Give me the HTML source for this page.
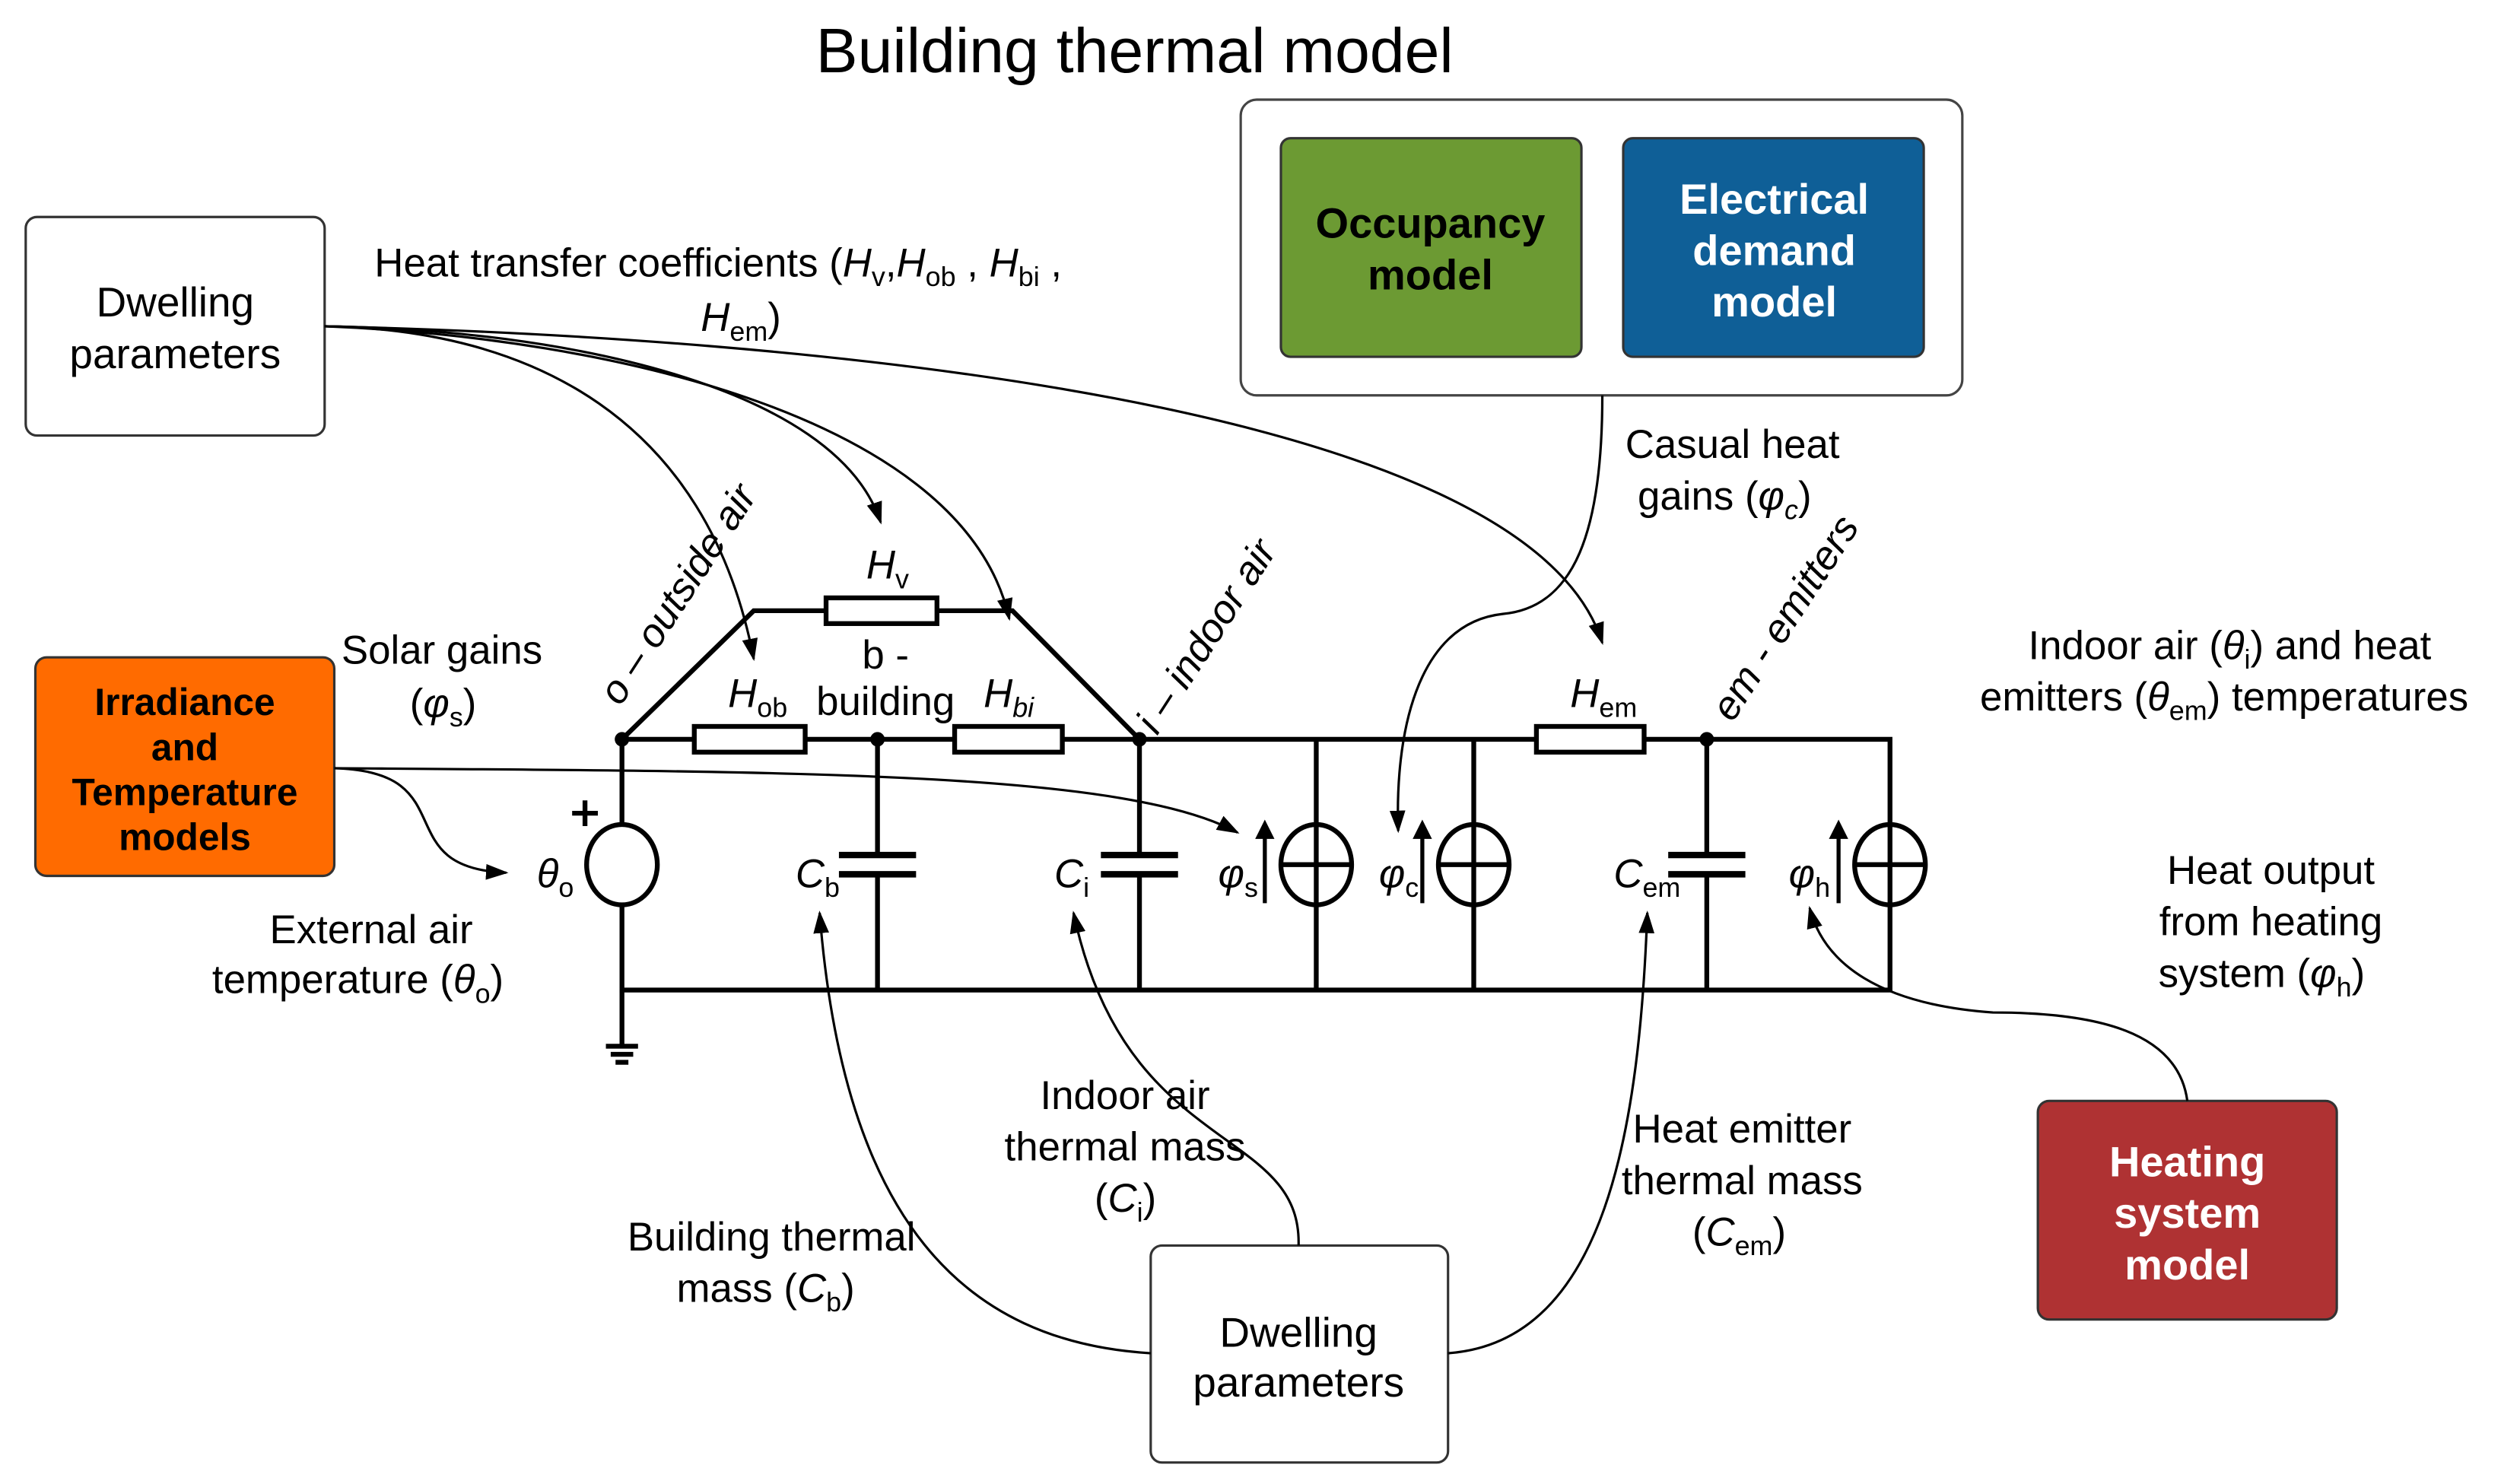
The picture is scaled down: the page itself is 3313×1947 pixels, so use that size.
<!DOCTYPE html>
<html><head><meta charset="utf-8"><style>
html,body{margin:0;padding:0;background:#fff}
svg{display:block}
text{font-family:"Liberation Sans",sans-serif;fill:#000}
.l{font-size:25px}
.b{font-size:26.5px;font-weight:bold}
.i{font-style:italic}
</style></head><body>
<svg width="3313" height="1947" viewBox="0 0 1568 921.5" preserveAspectRatio="none" xmlns="http://www.w3.org/2000/svg">
<defs>
<marker id="a2" viewBox="0 0 10 10" refX="9" refY="5" markerWidth="14" markerHeight="14" markerUnits="userSpaceOnUse" orient="auto"><path d="M0,1.5 L10,5 L0,8.5 z" fill="#000"/></marker>
</defs>
<text x="706" y="45" text-anchor="middle" style="font-size:39px">Building thermal model</text>

<rect x="772" y="62" width="449" height="184" rx="10" fill="#fff" stroke="#444" stroke-width="1.5"/>
<rect x="797" y="86" width="187" height="136" rx="6" fill="#6c9a33" stroke="#333" stroke-width="1.5"/>
<text class="b" text-anchor="middle"><tspan x="890" y="148">Occupancy</tspan><tspan x="890" y="180">model</tspan></text>
<rect x="1010" y="86" width="187" height="136" rx="6" fill="#0f5f97" stroke="#333" stroke-width="1.5"/>
<text class="b" text-anchor="middle"><tspan x="1104" y="133" style="fill:#fff">Electrical</tspan><tspan x="1104" y="165" style="fill:#fff">demand</tspan><tspan x="1104" y="197" style="fill:#fff">model</tspan></text>

<rect x="16" y="135" width="186" height="136" rx="7" fill="#fff" stroke="#333" stroke-width="1.5"/>
<text class="l" text-anchor="middle" style="font-size:26px"><tspan x="109" y="197">Dwelling</tspan><tspan x="109" y="229">parameters</tspan></text>

<rect x="22" y="409" width="186" height="136" rx="7" fill="#ff6b00" stroke="#333" stroke-width="1.5"/>
<text class="b" text-anchor="middle" style="font-size:23.5px"><tspan x="115" y="445">Irradiance</tspan><tspan x="115" y="473">and</tspan><tspan x="115" y="501">Temperature</tspan><tspan x="115" y="529">models</tspan></text>

<rect x="1268" y="685" width="186" height="136" rx="7" fill="#af3233" stroke="#333" stroke-width="1.5"/>
<text class="b" text-anchor="middle"><tspan x="1361" y="732" style="fill:#fff">Heating</tspan><tspan x="1361" y="764" style="fill:#fff">system</tspan><tspan x="1361" y="796" style="fill:#fff">model</tspan></text>

<rect x="716" y="775" width="185" height="135" rx="7" fill="#fff" stroke="#333" stroke-width="1.5"/>
<text class="l" text-anchor="middle" style="font-size:26px"><tspan x="808" y="838">Dwelling</tspan><tspan x="808" y="869">parameters</tspan></text>

<g stroke="#000" stroke-width="3" fill="none">
<path d="M387,460 H432 M501,460 H594 M661,460 H956 M1023,460 H1176 V616 H387 V460"/>
<path d="M387,460 L469,380 H514 M583,380 H630 L709,460"/>
<rect x="514" y="372" width="69" height="16" fill="#fff"/>
<rect x="432" y="452" width="69" height="16" fill="#fff"/>
<rect x="594" y="452" width="67" height="16" fill="#fff"/>
<rect x="956" y="452" width="67" height="16" fill="#fff"/>
<path d="M546,460 V532 M546,544 V616 M709,460 V532 M709,544 V616 M1062,460 V532 M1062,544 V616 M819,460 V616 M917,460 V616"/>
<path d="M522,532 H570 M522,544 H570 M685,532 H733 M685,544 H733 M1038,532 H1086 M1038,544 H1086" stroke-width="4"/>
<ellipse cx="387" cy="538" rx="22" ry="25" fill="#fff"/>
<ellipse cx="819" cy="538" rx="22" ry="25"/><path d="M797,538 H841"/>
<ellipse cx="917" cy="538" rx="22" ry="25"/><path d="M895,538 H939"/>
<ellipse cx="1176" cy="538" rx="22" ry="25"/><path d="M1154,538 H1198"/>
<path d="M387,616 V650 M377,651 H397 M380,656 H394 M383,661 H391"/>
<path d="M356,506 H372 M364,498 V514"/>
<path d="M787,562 V520 M885,562 V520 M1144,562 V520" stroke-width="2.5"/>
</g>
<path d="M781,522 L787,510 L793,522 z M879,522 L885,510 L891,522 z M1138,522 L1144,510 L1150,522 z" fill="#000"/>
<g fill="#000"><circle cx="387" cy="460" r="4.5"/><circle cx="546" cy="460" r="4.5"/><circle cx="709" cy="460" r="4.5"/><circle cx="1062" cy="460" r="4.5"/></g>

<g stroke="#000" stroke-width="1.5" fill="none" marker-end="url(#a2)">
<path d="M202,203 C330,205 440,260 469,410"/>
<path d="M202,203 C350,205 520,240 548,325"/>
<path d="M202,203 C380,210 600,260 628,385"/>
<path d="M202,203 C500,210 950,250 997,400"/>
<path d="M208,478 C500,480 700,480 770,518"/>
<path d="M208,478 C290,480 240,540 315,543"/>
<path d="M997,246 C997,330 980,378 935,382 C880,388 868,460 870,517"/>
<path d="M716,842 C600,835 525,760 510,568"/>
<path d="M808,775 C810,700 700,720 668,568"/>
<path d="M901,842 C1000,835 1020,700 1025,568"/>
<path d="M1361,685 C1355,640 1300,630 1240,630 C1170,625 1135,600 1126,565"/>
</g>

<text class="l" x="233" y="172">Heat transfer coefficients (<tspan class="i">H</tspan><tspan style="font-size:17px" dy="6">v</tspan><tspan dy="-6">,</tspan><tspan class="i">H</tspan><tspan style="font-size:17px" dy="6">ob</tspan><tspan dy="-6"> , </tspan><tspan class="i">H</tspan><tspan style="font-size:17px" dy="6">bi</tspan><tspan dy="-6"> ,</tspan></text>
<text class="l" x="436" y="206"><tspan class="i">H</tspan><tspan style="font-size:17px" dy="6">em</tspan><tspan dy="-6">)</tspan></text>
<text class="l" x="1078" y="285" text-anchor="middle">Casual heat</text>
<text class="l" x="1019" y="317">gains (<tspan class="i">φ</tspan><tspan class="i" style="font-size:17px" dy="6">c</tspan><tspan dy="-6">)</tspan></text>
<text class="l" x="275" y="413" text-anchor="middle">Solar gains</text>
<text class="l" x="255" y="446">(<tspan class="i">φ</tspan><tspan style="font-size:17px" dy="6">s</tspan><tspan dy="-6">)</tspan></text>
<text class="l" x="231" y="587" text-anchor="middle">External air</text>
<text class="l" x="132" y="618">temperature (<tspan class="i">θ</tspan><tspan style="font-size:17px" dy="6">o</tspan><tspan dy="-6">)</tspan></text>
<text class="l" x="1262" y="410">Indoor air (<tspan class="i">θ</tspan><tspan style="font-size:17px" dy="6">i</tspan><tspan dy="-6">) and heat</tspan></text>
<text class="l" x="1232" y="442">emitters (<tspan class="i">θ</tspan><tspan style="font-size:17px" dy="6">em</tspan><tspan dy="-6">) temperatures</tspan></text>
<text class="l" text-anchor="middle"><tspan x="1413" y="550">Heat output</tspan><tspan x="1413" y="582">from heating</tspan></text>
<text class="l" x="1343" y="614">system (<tspan class="i">φ</tspan><tspan style="font-size:17px" dy="6">h</tspan><tspan dy="-6">)</tspan></text>
<text class="l" text-anchor="middle"><tspan x="700" y="690">Indoor air</tspan><tspan x="700" y="722">thermal mass</tspan></text>
<text class="l" x="681" y="754">(<tspan class="i">C</tspan><tspan style="font-size:17px" dy="6">i</tspan><tspan dy="-6">)</tspan></text>
<text class="l" text-anchor="middle"><tspan x="1084" y="711">Heat emitter</tspan><tspan x="1084" y="743">thermal mass</tspan></text>
<text class="l" x="1053" y="775">(<tspan class="i">C</tspan><tspan style="font-size:17px" dy="6">em</tspan><tspan dy="-6">)</tspan></text>
<text class="l" x="480" y="778" text-anchor="middle">Building thermal</text>
<text class="l" x="421" y="810">mass (<tspan class="i">C</tspan><tspan style="font-size:17px" dy="6">b</tspan><tspan dy="-6">)</tspan></text>

<text class="l" x="539" y="360"><tspan class="i">H</tspan><tspan style="font-size:17px" dy="6">v</tspan></text>
<text class="l" x="453" y="440"><tspan class="i">H</tspan><tspan style="font-size:17px" dy="6">ob</tspan></text>
<text class="l" x="612" y="440"><tspan class="i">H</tspan><tspan class="i" style="font-size:17px" dy="6">bi</tspan></text>
<text class="l" x="977" y="440"><tspan class="i">H</tspan><tspan style="font-size:17px" dy="6">em</tspan></text>
<text class="l" text-anchor="middle"><tspan x="551" y="416">b -</tspan><tspan x="551" y="445">building</tspan></text>
<text class="l" x="334" y="552"><tspan class="i">θ</tspan><tspan style="font-size:17px" dy="6">o</tspan></text>
<text class="l" x="495" y="552"><tspan class="i">C</tspan><tspan style="font-size:17px" dy="6">b</tspan></text>
<text class="l" x="656" y="552"><tspan class="i">C</tspan><tspan style="font-size:17px" dy="6">i</tspan></text>
<text class="l" x="758" y="552"><tspan class="i">φ</tspan><tspan style="font-size:17px" dy="6">s</tspan></text>
<text class="l" x="858" y="552"><tspan class="i">φ</tspan><tspan style="font-size:17px" dy="6">c</tspan></text>
<text class="l" x="1004" y="552"><tspan class="i">C</tspan><tspan style="font-size:17px" dy="6">em</tspan></text>
<text class="l" x="1113" y="552"><tspan class="i">φ</tspan><tspan style="font-size:17px" dy="6">h</tspan></text>

<text class="l i" transform="translate(386,440) rotate(-57)">o – outside air</text>
<text class="l i" transform="translate(720,458) rotate(-57)">i – indoor air</text>
<text class="l i" transform="translate(1078,450) rotate(-57)">em - emitters</text>
</svg>
</body></html>
